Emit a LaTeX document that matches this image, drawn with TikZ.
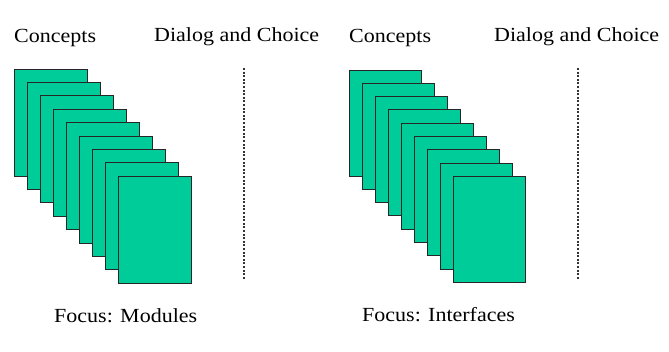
\documentclass[tikz,border=0pt]{standalone}
\usepackage{fontspec}
\setmainfont{Liberation Serif}[FakeStretch=1.1]
\definecolor{cardgreen}{RGB}{0,204,153}
\begin{document}
\begin{tikzpicture}[x=1pt,y=-1pt,
  card/.style={draw=black!85,line width=0.9pt,fill=cardgreen,inner sep=0pt,outer sep=0pt,anchor=north west},
  label/.style={inner sep=0pt,anchor=base west,font=\fontsize{20}{24}\selectfont},
  divider/.style={line width=2pt,dash pattern=on 2pt off 1.6pt,black!80}]
\useasboundingbox (0,0) rectangle (669,352);

% stack of module cards (left)
\foreach \i in {0,...,8}{
  \node[card,minimum width=73pt,minimum height=107pt] (L\i) at ({14+13.1*\i},{69+13.4*\i}) {};
}
% stack of interface cards (right)
\foreach \i in {0,...,8}{
  \node[card,minimum width=72pt,minimum height=106pt] (R\i) at ({349+13.1*\i},{70+13.3*\i}) {};
}

% dotted dividers
\coordinate (la) at (244,68); \coordinate (lb) at (244,280);
\coordinate (ra) at (578,68); \coordinate (rb) at (578,280);
\draw[divider] (la) -- (lb);
\draw[divider] (ra) -- (rb);

% headings
\node[label] (c1) at (14,43) {Concepts};
\node[label] (d1) at (154,42) {Dialog and Choice};
\node[label] (c2) at (349,43) {Concepts};
\node[label] (d2) at (494,42) {Dialog and Choice};

% captions
\node[label] (f1) at (54,323) {Focus: Modules};
\node[label] (f2) at (362,322) {Focus: Interfaces};
\end{tikzpicture}
\end{document}
